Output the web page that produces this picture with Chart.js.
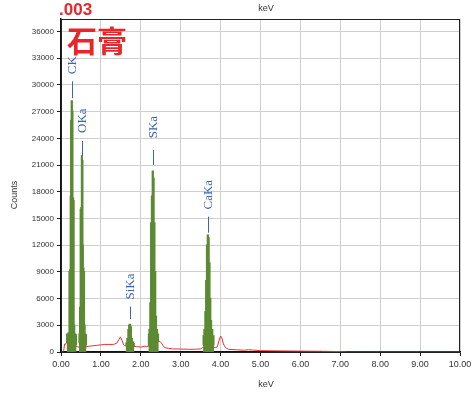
<!DOCTYPE html>
<html>
<head>
<meta charset="utf-8">
<script src="https://cdn.jsdelivr.net/npm/chart.js@4/dist/chart.umd.min.js"></script>
<style>
html,body{margin:0;padding:0;background:#fff;}
#wrap{width:475px;height:400px;}
</style>
</head>
<body>
<div id="wrap"><canvas id="c" width="475" height="400"></canvas></div>
<script>
// ---- Data ----
const sampleId = ".003";
const sampleName = "石膏";
const xTicks = [0,1,2,3,4,5,6,7,8,9,10];
const yTicks = [0,3000,6000,9000,12000,15000,18000,21000,24000,27000,30000,33000,36000];

// background spectrum (red line), keV / counts
const bgKeV = [0.00,0.04,0.07,0.09,0.11,0.13,0.16,0.20,0.30,0.40,0.45,0.65,0.70,0.80,0.90,1.00,1.10,1.20,1.30,1.35,1.40,1.45,1.49,1.53,1.57,1.60,1.70,1.90,2.00,2.10,2.15,2.20,2.30,2.45,2.48,2.52,2.56,2.60,2.70,2.80,3.00,3.20,3.40,3.50,3.55,3.70,3.88,3.92,3.96,4.00,4.03,4.07,4.12,4.20,4.40,4.60,4.70,4.80,5.00,5.50,6.00,6.50,7.00,7.20,7.50,8.00,9.00,10.00];
const bgCounts = [0,0,200,900,850,1000,1200,1000,800,600,550,600,650,700,750,800,850,850,850,900,1000,1400,1700,1300,800,700,650,600,550,650,600,700,900,1200,1200,1000,700,500,400,350,330,300,320,350,500,600,500,600,1300,1800,1600,900,500,300,250,200,260,220,150,120,100,80,50,0,0,0,0,0];

// ROI peaks (green), keV / counts
const cKeV = [0.14,0.15,0.20,0.21,0.23,0.24,0.25,0.27,0.29,0.30,0.32,0.33,0.35,0.38,0.39];
const cCounts = [1000,2000,2100,9000,9200,17500,26000,28200,27000,17300,17000,3000,2000,1900,800];
const oKeV = [0.45,0.46,0.48,0.49,0.51,0.52,0.54,0.55,0.56,0.58,0.59,0.61,0.63,0.64];
const oCounts = [1000,2000,5000,16000,16200,22000,21500,12000,9400,9000,3000,2000,1900,800];
const siKeV = [1.62,1.64,1.67,1.69,1.71,1.73,1.75,1.77,1.80,1.83,1.84];
const siCounts = [800,1000,1500,2500,3000,3100,2800,1500,1100,900,700];
const sKeV = [2.19,2.20,2.22,2.24,2.26,2.28,2.30,2.32,2.34,2.36,2.38,2.40,2.43,2.45];
const sCounts = [700,2000,2500,5500,14500,17500,20300,19500,14500,9000,4000,2500,2000,1200];
const caKeV = [3.56,3.57,3.60,3.62,3.64,3.66,3.68,3.70,3.72,3.74,3.76,3.78,3.82,3.84];
const caCounts = [800,1800,2500,4500,8000,12000,13100,12800,10000,6000,3500,2500,1800,800];

// peak identification markers
const lineNames = ["CK","OKa","SiKa","SKa","CaKa"];
const lineKeV = [0.277,0.525,1.740,2.308,3.690];
const markLow = [28500,22000,3700,21000,13400];
const markHigh = [30400,23700,5100,22700,15200];
const textStart = [31200,24600,5900,24000,16000];

// ---- Build ----
const toPts = (xs, ys) => xs.map((x, i) => ({x: x, y: ys[i]}));
const GREEN = 'rgb(92,138,50)';
const RED = 'rgb(232,48,54)';
const peakSets = [[cKeV,cCounts],[oKeV,oCounts],[siKeV,siCounts],[sKeV,sCounts],[caKeV,caCounts]];

const datasets = peakSets.map(p => ({
  data: toPts(p[0], p[1]),
  borderColor: GREEN, backgroundColor: GREEN, borderWidth: 1.5,
  fill: 'origin', pointRadius: 0, stepped: 'middle', order: 0
}));
datasets.push({
  data: toPts(bgKeV, bgCounts),
  borderColor: RED, backgroundColor: RED, borderWidth: 1,
  fill: false, pointRadius: 0, tension: 0, order: 1
});

const decor = {
  id: 'decor',
  afterDatasetsDraw(chart) {
    const ctx = chart.ctx, a = chart.chartArea;
    const xs = chart.scales.x, ys = chart.scales.y;
    ctx.save();
    ctx.strokeStyle = '#222'; ctx.lineWidth = 1;
    ctx.strokeRect(a.left + 0.5, a.top + 0.5, a.right - a.left - 1, a.bottom - a.top);
    ctx.strokeStyle = '#3f63b5'; ctx.fillStyle = '#3f63b5';
    ctx.font = '13px "Liberation Serif", "DejaVu Serif", serif';
    for (let i = 0; i < lineNames.length; i++) {
      const px = Math.round(xs.getPixelForValue(lineKeV[i])) + 0.5;
      ctx.beginPath();
      ctx.moveTo(px, ys.getPixelForValue(markLow[i]));
      ctx.lineTo(px, ys.getPixelForValue(markHigh[i]));
      ctx.stroke();
      ctx.save();
      ctx.translate(px + 0.5, ys.getPixelForValue(textStart[i]));
      ctx.rotate(-Math.PI / 2);
      ctx.textAlign = 'left'; ctx.textBaseline = 'middle';
      ctx.fillText(lineNames[i], 0, 0);
      ctx.restore();
    }
    ctx.restore();
  },
  afterDraw(chart) {
    const ctx = chart.ctx;
    ctx.save();
    ctx.fillStyle = '#333';
    ctx.font = '9px "Liberation Sans", Arial, sans-serif';
    ctx.textAlign = 'center'; ctx.textBaseline = 'middle';
    ctx.fillText('keV', 266, 9);
    ctx.fillText('keV', 266, 385);
    ctx.save();
    ctx.translate(15, 195); ctx.rotate(-Math.PI / 2);
    ctx.fillText('Counts', 0, 0);
    ctx.restore();
    ctx.fillStyle = 'rgb(232,38,42)';
    ctx.textAlign = 'left'; ctx.textBaseline = 'alphabetic';
    ctx.font = 'bold 17px "Liberation Sans Narrow", "Liberation Sans", Arial, sans-serif';
    ctx.fillText(sampleId, 59, 15);
    ctx.font = 'bold 30px "Noto Sans CJK JP", "Noto Sans CJK SC", sans-serif';
    ctx.textBaseline = 'middle';
    ctx.fillText(sampleName, 67, 41);
    ctx.restore();
  }
};

new Chart(document.getElementById('c'), {
  type: 'line',
  data: { datasets: datasets },
  options: {
    responsive: false, animation: false,
    layout: { padding: { top: 19, right: 15, left: 0, bottom: 0 } },
    plugins: { legend: { display: false }, tooltip: { enabled: false }, title: { display: false } },
    scales: {
      x: {
        type: 'linear', min: 0, max: 10,
        afterFit(s) { s.height = 48; },
        afterBuildTicks(s) { s.ticks = xTicks.map(v => ({value: v})); },
        ticks: { font: { size: 9, family: '"Liberation Sans", Arial, sans-serif' }, color: '#333', padding: 3, maxRotation: 0,
                 callback: v => Number(v).toFixed(2) },
        grid: { color: '#cfcfcf', tickLength: 4, tickColor: '#222' },
        border: { color: '#111', width: 1.5 }
      },
      y: {
        type: 'linear', min: 0, max: 37400,
        afterFit(s) { s.width = 61; },
        afterBuildTicks(s) { s.ticks = yTicks.map(v => ({value: v})); },
        ticks: { autoSkip: false, font: { size: 8, family: '"Liberation Sans", Arial, sans-serif' }, color: '#333', padding: 3,
                 callback: v => String(v) },
        grid: { color: '#cfcfcf', tickLength: 4, tickColor: '#222' },
        border: { color: '#111', width: 1.5 }
      }
    }
  },
  plugins: [decor]
});
</script>
</body>
</html>
